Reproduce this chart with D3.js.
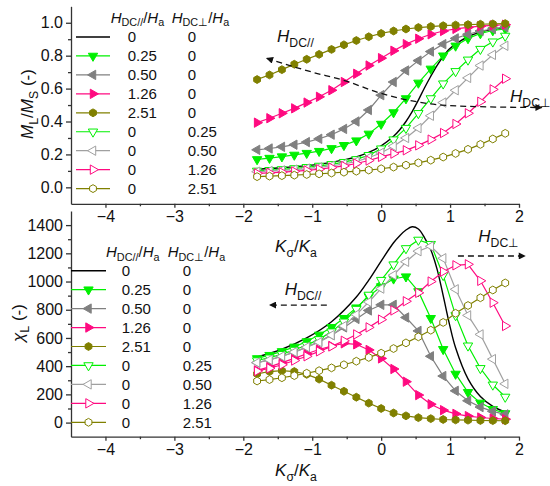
<!DOCTYPE html>
<html>
<head>
<meta charset="utf-8">
<script src="https://cdn.jsdelivr.net/npm/d3@7"></script>
<style>
	body { margin: 0; background: #fff; }
	text { font-family: "Liberation Sans", Arial, sans-serif; fill: #111; }
</style>
</head>
<body>
<svg id="chart" width="550" height="486"></svg>
<script>
// --- DATA --- \\
// K_sigma/K_a grid of the marked curves, and a finer one for the plain black curve
var kSigma = [-1.8, -1.62, -1.44, -1.26, -1.08, -0.9, -0.72, -0.54, -0.36, -0.18, 0,
	0.18, 0.36, 0.54, 0.72, 0.9, 1.08, 1.26, 1.44, 1.62, 1.8];
var kBlack = [-1.8, -1.44, -1.08, -0.72, -0.36, -0.18, 0, 0.18, 0.27, 0.36, 0.45,
	0.54, 0.63, 0.72, 0.81, 0.9, 0.99, 1.08, 1.26, 1.44, 1.62, 1.8];

// legend columns
var hParLabels = ["0", "0.25", "0.50", "1.26", "2.51", "0", "0", "0", "0"];
var hPerpLabels = ["0", "0", "0", "0", "0", "0.25", "0.50", "1.26", "2.51"];

// top panel: M_L / M_S
var mBlack = [0.11, 0.119, 0.132, 0.152, 0.185, 0.212, 0.252, 0.31, 0.35, 0.40, 0.46,
	0.53, 0.605, 0.675, 0.74, 0.795, 0.84, 0.87, 0.915, 0.943, 0.96, 0.97];
var mPar025 = [0.17, 0.178, 0.187, 0.197, 0.208, 0.22, 0.237, 0.256, 0.284, 0.325, 0.385,
	0.455, 0.54, 0.635, 0.72, 0.80, 0.86, 0.905, 0.935, 0.953, 0.963];
var mPar050 = [0.228, 0.236, 0.246, 0.259, 0.275, 0.295, 0.32, 0.355, 0.40, 0.47, 0.56,
	0.64, 0.71, 0.77, 0.825, 0.87, 0.905, 0.93, 0.95, 0.962, 0.972];
var mPar126 = [0.393, 0.42, 0.45, 0.48, 0.515, 0.55, 0.59, 0.64, 0.69, 0.74, 0.785,
	0.83, 0.87, 0.903, 0.93, 0.95, 0.963, 0.972, 0.979, 0.984, 0.988];
var mPar251 = [0.655, 0.683, 0.715, 0.748, 0.778, 0.808, 0.838, 0.866, 0.892, 0.915, 0.935,
	0.95, 0.962, 0.971, 0.977, 0.982, 0.986, 0.989, 0.991, 0.993, 0.995];
var mPerp025 = [0.10, 0.104, 0.109, 0.115, 0.122, 0.13, 0.14, 0.153, 0.17, 0.195, 0.235,
	0.29, 0.36, 0.45, 0.54, 0.63, 0.705, 0.775, 0.84, 0.885, 0.92];
var mPerp050 = [0.095, 0.099, 0.103, 0.108, 0.114, 0.121, 0.13, 0.142, 0.158, 0.18, 0.21,
	0.25, 0.30, 0.36, 0.435, 0.515, 0.59, 0.665, 0.74, 0.805, 0.86];
var mPerp126 = [0.085, 0.088, 0.092, 0.097, 0.103, 0.11, 0.12, 0.13, 0.145, 0.163, 0.185,
	0.205, 0.225, 0.255, 0.29, 0.33, 0.385, 0.45, 0.52, 0.595, 0.66];
var mPerp251 = [0.065, 0.068, 0.071, 0.074, 0.078, 0.082, 0.087, 0.092, 0.098, 0.105, 0.113,
	0.123, 0.135, 0.149, 0.165, 0.184, 0.206, 0.231, 0.261, 0.294, 0.328];

// bottom panel: chi_L
var cBlack = [465, 520, 600, 715, 890, 1010, 1145, 1275, 1325, 1365, 1388,
	1372, 1310, 1225, 1090, 900, 700, 530, 310, 185, 115, 75];
var cPar025 = [455, 478, 505, 537, 575, 622, 676, 740, 815, 895, 965,
	1020, 1035, 930, 740, 520, 345, 215, 140, 95, 65];
var cPar050 = [425, 445, 470, 500, 535, 575, 620, 675, 735, 795, 835,
	835, 745, 650, 470, 330, 225, 155, 110, 80, 58];
var cPar126 = [370, 395, 425, 455, 488, 518, 543, 562, 555, 515, 455,
	380, 290, 195, 130, 88, 62, 46, 36, 29, 24];
var cPar251 = [345, 362, 368, 362, 342, 308, 265, 222, 180, 138, 100,
	68, 48, 35, 28, 22, 19, 17, 15, 14, 13];
var cPerp025 = [440, 460, 485, 515, 550, 590, 645, 715, 805, 905, 1010,
	1120, 1235, 1295, 1265, 1045, 760, 545, 385, 268, 182];
var cPerp050 = [425, 445, 470, 500, 535, 570, 620, 685, 765, 855, 950,
	1045, 1140, 1215, 1250, 1165, 945, 760, 625, 450, 275];
var cPerp126 = [365, 385, 410, 440, 470, 505, 540, 580, 625, 675, 730,
	795, 860, 920, 1000, 1070, 1115, 1122, 1005, 850, 685];
var cPerp251 = [295, 305, 318, 333, 350, 368, 388, 410, 435, 462, 492,
	525, 565, 608, 655, 710, 775, 830, 885, 940, 990];

// annotation arrows, in data units
var arrowTopPts = [[-1.66, 0.784], [-1.0, 0.70], [-0.556, 0.652], [0, 0.571], [0.45, 0.525],
	[0.878, 0.50], [1.434, 0.49], [2.33, 0.485]];

// --- SYMBOLS --- \\
var hexagon = {
	draw: function (ctx, size) {
		var r = Math.sqrt(2 * size / (3 * Math.sqrt(3)));
		for (var i = 0; i < 6; i++) {
			var a = Math.PI / 3 * i - Math.PI / 2;
			if (i === 0) ctx.moveTo(r * Math.cos(a), r * Math.sin(a));
			else ctx.lineTo(r * Math.cos(a), r * Math.sin(a));
		}
		ctx.closePath();
	}
};

var green = "#00f000", gray = "#808080", pink = "#ff0a80", olive = "#808000";

// one entry per legend row; styles live here, values come from the arrays above
var series = [
	{ k: kBlack, m: mBlack, c: cBlack, color: "#000", sym: null, width: 1.4, smooth: true },
	{ k: kSigma, m: mPar025, c: cPar025, color: green, sym: d3.symbolTriangle, rot: 180, fill: true },
	{ k: kSigma, m: mPar050, c: cPar050, color: gray, sym: d3.symbolTriangle, rot: -90, fill: true },
	{ k: kSigma, m: mPar126, c: cPar126, color: pink, sym: d3.symbolTriangle, rot: 90, fill: true },
	{ k: kSigma, m: mPar251, c: cPar251, color: olive, sym: hexagon, rot: 0, fill: true },
	{ k: kSigma, m: mPerp025, c: cPerp025, color: green, sym: d3.symbolTriangle, rot: 180, fill: false },
	{ k: kSigma, m: mPerp050, c: cPerp050, color: "#a0a0a0", sym: d3.symbolTriangle, rot: -90, fill: false },
	{ k: kSigma, m: mPerp126, c: cPerp126, color: pink, sym: d3.symbolTriangle, rot: 90, fill: false },
	{ k: kSigma, m: mPerp251, c: cPerp251, color: olive, sym: hexagon, rot: 0, fill: false }
];

// --- SETUP --- \\
var svg = d3.select("#chart");
var axisColor = "#333";

var x = d3.scaleLinear().domain([-4.5, 2]).range([71, 519]);
var yTop = d3.scaleLinear().domain([-0.1, 1.1]).range([203.8, 6.3]);
var yBot = d3.scaleLinear().domain([-100, 1500]).range([436.7, 211]);

var defs = svg.append("defs");
defs.append("marker").attr("id", "arrow")
	.attr("viewBox", "0 0 10 10").attr("refX", 9).attr("refY", 5)
	.attr("markerWidth", 8).attr("markerHeight", 7)
	.attr("markerUnits", "userSpaceOnUse")
	.attr("orient", "auto-start-reverse")
	.append("path").attr("d", "M0,0 L10,5 L0,10 Z").attr("fill", "#111");

// writes italic / subscript pieces into a text element
function rich(txt, parts, fs, subDrop) {
	var shift = 0, drop = subDrop || 0.3;
	parts.forEach(function (p) {
		var sp = txt.append("tspan").text(p[0]);
		var want = p[1] === "s" ? fs * drop : 0;
		if (want !== shift) { sp.attr("dy", want - shift); shift = want; }
		if (p[1] === "s") sp.attr("font-size", fs * 0.72);
		if (p[1] === "i") sp.attr("font-style", "italic");
	});
	return txt;
}

function styleAxis(g) {
	g.selectAll("path, line").attr("stroke", axisColor).attr("stroke-width", 1.3);
	g.selectAll("text").attr("font-size", 16).attr("fill", "#111")
		.attr("font-family", "'Liberation Sans', Arial, sans-serif");
}

function putSymbol(g, s, cx, cy) {
	if (!s.sym) return;
	var size = s.sym === hexagon ? 40 : 38;
	g.append("path")
		.attr("d", d3.symbol().type(s.sym).size(size)())
		.attr("transform", "translate(" + cx + "," + cy + ") rotate(" + s.rot + ")")
		.attr("fill", s.fill ? s.color : "#fff")
		.attr("stroke", s.color)
		.attr("stroke-width", 1);
}

// --- PANELS --- \\
function drawPanel(yScale, key, yTicks, yMinor, yFmt, axisY) {
	var gx = svg.append("g").attr("transform", "translate(0," + axisY + ")");
	gx.call(d3.axisBottom(x).tickValues([-4, -3, -2, -1, 0, 1, 2])
		.tickSize(4).tickSizeOuter(0).tickPadding(3).tickFormat(d3.format("d")));
	gx.append("g").call(d3.axisBottom(x).tickValues([-3.5, -2.5, -1.5, -0.5, 0.5, 1.5])
		.tickSize(2.5).tickSizeOuter(0).tickFormat(""))
		.select(".domain").remove();
	styleAxis(gx);

	var gy = svg.append("g").attr("transform", "translate(" + x.range()[0] + ",0)");
	gy.call(d3.axisLeft(yScale).tickValues(yTicks).tickSize(5).tickSizeOuter(0)
		.tickPadding(3).tickFormat(yFmt));
	gy.append("g").call(d3.axisLeft(yScale).tickValues(yMinor).tickSize(3)
		.tickSizeOuter(0).tickFormat(""))
		.select(".domain").remove();
	styleAxis(gy);

	var plot = svg.append("g");
	series.forEach(function (s) {
		var pts = s.k.map(function (k, i) { return [k, s[key][i]]; });
		var line = d3.line()
			.x(function (d) { return x(d[0]); })
			.y(function (d) { return yScale(d[1]); })
			.curve(s.smooth ? d3.curveCatmullRom.alpha(0.5) : d3.curveLinear);
		plot.append("path").attr("d", line(pts))
			.attr("fill", "none").attr("stroke", s.color)
			.attr("stroke-width", s.width || 1.2);
		var mg = plot.append("g");
		pts.forEach(function (d) { putSymbol(mg, s, x(d[0]), yScale(d[1])); });
	});
}

drawPanel(yTop, "m", [0, 0.2, 0.4, 0.6, 0.8, 1.0], [0.1, 0.3, 0.5, 0.7, 0.9],
	d3.format(".1f"), yTop.range()[0]);
drawPanel(yBot, "c", d3.range(0, 1401, 200), d3.range(100, 1400, 200),
	d3.format("d"), yBot.range()[0]);

// --- LEGENDS --- \\
function drawLegend(top, lineX0, lineX1, col1, col2, head1, head2, headY) {
	var g = svg.append("g");
	[head1, head2].forEach(function (hx, j) {
		var t = g.append("text").attr("x", hx).attr("y", headY).attr("font-size", 15);
		rich(t, [["H", "i"], [j === 0 ? "DC//" : "DC\u22a5", "s"], ["/", "n"], ["H", "i"], ["a", "s"]], 15, 0.22);
	});
	series.forEach(function (s, i) {
		var cy = top + i * 18.95;
		g.append("line").attr("x1", lineX0).attr("x2", lineX1)
			.attr("y1", cy).attr("y2", cy)
			.attr("stroke", s.color).attr("stroke-width", s.width || 1.2);
		putSymbol(g, s, (lineX0 + lineX1) / 2, cy);
		g.append("text").attr("x", col1).attr("y", cy).attr("dy", "0.36em")
			.attr("font-size", 15).text(hParLabels[i]);
		g.append("text").attr("x", col2).attr("y", cy).attr("dy", "0.36em")
			.attr("font-size", 15).text(hPerpLabels[i]);
	});
}

drawLegend(37, 76, 110, 127.7, 187.7, 110.7, 171.7, 22.5);
drawLegend(270.7, 71, 106, 121.7, 182.7, 106, 167.7, 257.3);

// --- AXIS TITLES --- \\
rich(svg.append("text").attr("transform", "translate(33,104) rotate(-90)")
	.attr("text-anchor", "middle").attr("font-size", 17),
	[["M", "i"], ["L", "s"], ["/", "n"], ["M", "i"], ["S", "s"], [" (-)", "n"]], 17);
rich(svg.append("text").attr("transform", "translate(24,323) rotate(-90)")
	.attr("text-anchor", "middle").attr("font-size", 17),
	[["\u03c7", "i"], ["L", "s"], [" (-)", "n"]], 17);

[252, 476].forEach(function (by) {
	rich(svg.append("text").attr("x", 296).attr("y", by)
		.attr("text-anchor", "middle").attr("font-size", 17),
		[["K", "i"], ["\u03c3", "s"], ["/", "n"], ["K", "i"], ["a", "s"]], 17);
});

// --- FIELD DIRECTION ARROWS --- \\
var arrowLine = d3.line()
	.x(function (d) { return x(d[0]); })
	.y(function (d) { return yTop(d[1]); })
	.curve(d3.curveMonotoneX);
svg.append("path").attr("d", arrowLine(arrowTopPts))
	.attr("fill", "none").attr("stroke", "#111").attr("stroke-width", 1.3)
	.attr("stroke-dasharray", "6,4")
	.attr("marker-start", "url(#arrow)").attr("marker-end", "url(#arrow)");

var botArrows = [
	{ from: [1.114, 1181], to: [2.088, 1181] },
	{ from: [-0.788, 833], to: [-1.617, 833] }
];
botArrows.forEach(function (a) {
	svg.append("line")
		.attr("x1", x(a.from[0])).attr("y1", yBot(a.from[1]))
		.attr("x2", x(a.to[0])).attr("y2", yBot(a.to[1]))
		.attr("stroke", "#111").attr("stroke-width", 1.3)
		.attr("stroke-dasharray", "6,4").attr("marker-end", "url(#arrow)");
});

var fieldLabels = [
	{ k: -1.51, v: 0.883, y: yTop, sub: "DC//" },
	{ k: 1.87, v: 0.52, y: yTop, sub: "DC\u22a5" },
	{ k: -1.4, v: 905, y: yBot, sub: "DC//" },
	{ k: 1.41, v: 1281, y: yBot, sub: "DC\u22a5" }
];
fieldLabels.forEach(function (f) {
	rich(svg.append("text").attr("x", x(f.k)).attr("y", f.y(f.v)).attr("font-size", 17),
		[["H", "i"], [f.sub, "s"]], 17);
});
</script>
</body>
</html>
